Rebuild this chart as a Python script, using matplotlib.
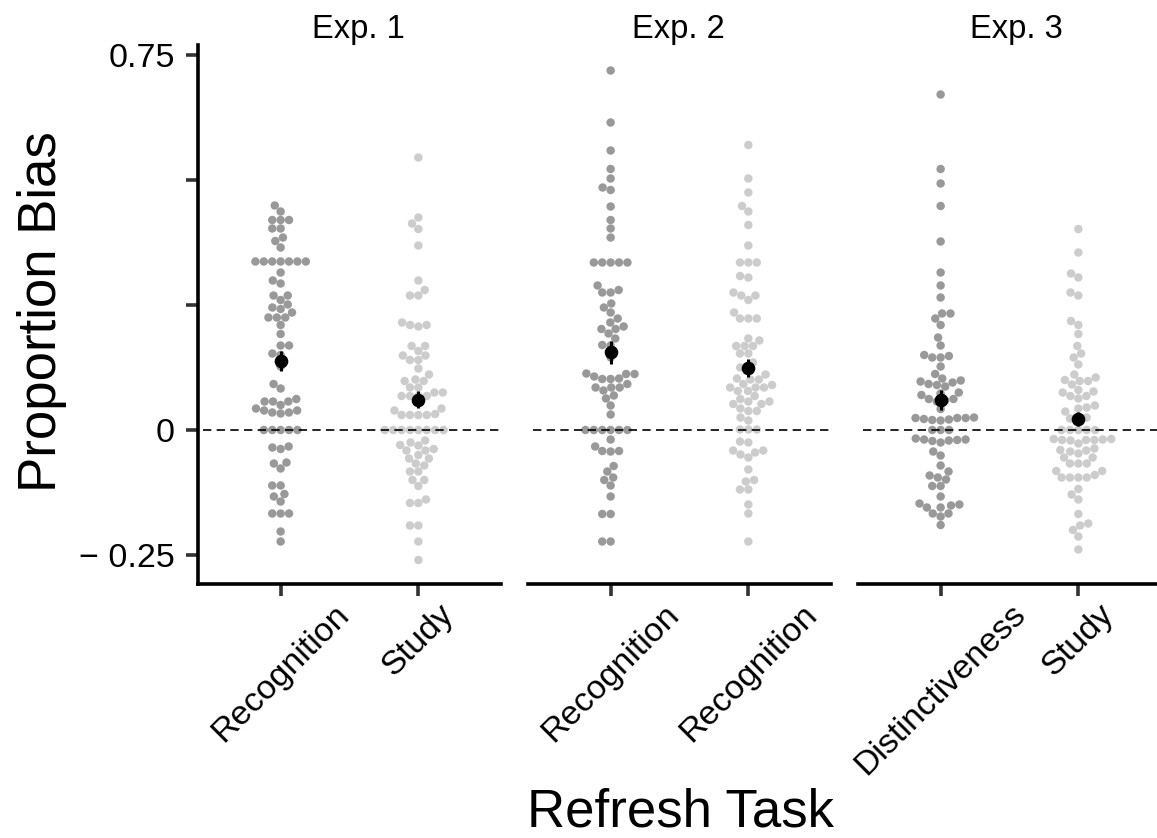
import numpy as np
import matplotlib
matplotlib.use("Agg")
import matplotlib.pyplot as plt

plt.rcParams['font.family'] = ['Liberation Sans', 'DejaVu Sans']

# ---------------- data ----------------
panel_titles = ['Exp. 1', 'Exp. 2', 'Exp. 3']
category_labels = [['Recognition', 'Study'],
                   ['Recognition', 'Recognition'],
                   ['Distinctiveness', 'Study']]

exp1_recognition = [0.449, 0.437, 0.420, 0.420, 0.420, 0.403, 0.403, 0.385, 0.378, 0.365,
                    0.337, 0.337, 0.337, 0.337, 0.337, 0.337, 0.337,
                    0.315, 0.299, 0.293, 0.269, 0.269, 0.260, 0.251, 0.245, 0.242, 0.235,
                    0.225, 0.225, 0.225, 0.210, 0.192, 0.169, 0.169, 0.153, 0.150, 0.127,
                    0.092, 0.083, 0.062,
                    0.057, 0.057, 0.057, 0.050, 0.043, 0.039, 0.039, 0.035, 0.035, 0.033,
                    0.0, 0.0, 0.0, 0.0, 0.0,
                    -0.033, -0.035, -0.038, -0.065, -0.067, -0.077, -0.111, -0.111, -0.128,
                    -0.133, -0.143, -0.167, -0.167, -0.167, -0.203, -0.223]

exp1_study = [0.545, 0.425, 0.413, 0.402, 0.369, 0.299, 0.280, 0.269, 0.269,
              0.215, 0.210, 0.210, 0.207, 0.168, 0.168, 0.158, 0.149, 0.149, 0.140, 0.140,
              0.123, 0.111, 0.101, 0.098, 0.098,
              0.085, 0.085, 0.075, 0.075, 0.068, 0.068, 0.068, 0.068,
              0.043, 0.039, 0.030, 0.030, 0.030, 0.030, 0.032,
              0.0, 0.0, 0.0, 0.0, 0.0, 0.0, 0.0, 0.0,
              -0.021, -0.025, -0.030, -0.031, -0.038, -0.041, -0.041, -0.050, -0.057, -0.057,
              -0.067, -0.071, -0.083, -0.083, -0.100, -0.100, -0.112, -0.139, -0.146, -0.146,
              -0.191, -0.191, -0.223, -0.260]

exp2_recognition_a = [0.719, 0.615, 0.559, 0.522, 0.503, 0.485, 0.480, 0.447, 0.420, 0.403, 0.385,
                      0.335, 0.335, 0.335, 0.335, 0.335,
                      0.289, 0.280, 0.275, 0.275, 0.253, 0.245, 0.235, 0.223, 0.215, 0.207,
                      0.202, 0.202, 0.193, 0.183, 0.170, 0.169, 0.145,
                      0.113, 0.112, 0.112, 0.107, 0.103, 0.102, 0.102, 0.092, 0.085, 0.085,
                      0.085, 0.079, 0.069, 0.063, 0.049, 0.031,
                      0.0, 0.0, 0.0, 0.0, 0.0, 0.0,
                      -0.019, -0.033, -0.042, -0.042, -0.043, -0.072, -0.083, -0.095, -0.100,
                      -0.111, -0.133, -0.168, -0.168, -0.223, -0.223]

exp2_recognition_b = [0.570, 0.503, 0.475, 0.448, 0.437, 0.410, 0.369, 0.335, 0.335, 0.335,
                      0.308, 0.305,
                      0.275, 0.269, 0.269, 0.260, 0.235, 0.223, 0.223, 0.223, 0.183, 0.179,
                      0.168, 0.168, 0.168, 0.153, 0.153, 0.135, 0.125, 0.121, 0.111,
                      0.103, 0.101, 0.101, 0.092, 0.090, 0.085, 0.085, 0.085, 0.078, 0.078,
                      0.068, 0.062, 0.057, 0.057, 0.052, 0.052, 0.043, 0.038, 0.038, 0.025, 0.019,
                      0.001, 0.001, 0.001,
                      -0.023, -0.025, -0.041, -0.041, -0.045, -0.049, -0.055, -0.079, -0.100,
                      -0.103, -0.119, -0.119, -0.149, -0.167, -0.223]

exp3_distinctiveness = [0.671, 0.522, 0.493, 0.448, 0.377, 0.315, 0.289, 0.265, 0.233, 0.233,
                        0.223, 0.210, 0.185, 0.169,
                        0.150, 0.148, 0.145, 0.145, 0.127, 0.112,
                        0.103, 0.099, 0.097, 0.095, 0.092, 0.090, 0.087,
                        0.075, 0.073, 0.070, 0.062, 0.062, 0.059, 0.057, 0.042,
                        0.025, 0.024, 0.024, 0.022, 0.021, 0.020, 0.019, 0.024,
                        0.0, 0.0, 0.0,
                        -0.017, -0.019, -0.019, -0.020, -0.021, -0.022, -0.025,
                        -0.043, -0.051, -0.071, -0.083, -0.091, -0.095, -0.099, -0.112, -0.112,
                        -0.133, -0.147, -0.149, -0.151, -0.155, -0.155, -0.167, -0.167,
                        -0.173, -0.190]

exp3_study = [0.402, 0.355, 0.313, 0.305, 0.275, 0.269, 0.218, 0.210, 0.192, 0.168, 0.153,
              0.145, 0.131, 0.111,
              0.105, 0.100, 0.098, 0.098, 0.091,
              0.080, 0.077, 0.075, 0.068, 0.068, 0.063,
              0.049, 0.045, 0.043, 0.037, 0.025, 0.023, 0.022,
              0.0, 0.0, 0.0, 0.0, 0.0,
              -0.018, -0.018, -0.019, -0.020, -0.020, -0.020, -0.021, -0.027, -0.037,
              -0.040, -0.041, -0.043, -0.047, -0.055, -0.055, -0.067, -0.067, -0.067,
              -0.082, -0.082, -0.090, -0.095, -0.095, -0.095, -0.095,
              -0.118, -0.129, -0.139, -0.168, -0.187, -0.191, -0.200, -0.213, -0.239]

panel_values = [[exp1_recognition, exp1_study],
                [exp2_recognition_a, exp2_recognition_b],
                [exp3_distinctiveness, exp3_study]]

means = [[0.137, 0.060], [0.155, 0.123], [0.060, 0.021]]
std_errors = [[0.020, 0.017], [0.023, 0.018], [0.020, 0.014]]

y_ticks = [-0.25, 0, 0.25, 0.5, 0.75]
y_tick_labels = ['\u2212 0.25', '0', '', '', '0.75']

colors = ['#999999', '#cccccc']

# ---------------- helpers ----------------
def swarm_offsets(vals, diam_px, sx, sy):
    vals = np.asarray(vals, dtype=float)
    order = np.argsort(vals, kind='stable')
    px_list, py_list = [], []
    offs = np.zeros(len(vals))
    for i in order:
        y = vals[i] * sy
        cands = [0.0]
        for px, py in zip(px_list, py_list):
            dy = y - py
            if abs(dy) < diam_px:
                dx = np.sqrt(diam_px ** 2 - dy ** 2)
                cands += [px - dx, px + dx]
        cands = sorted(cands, key=lambda c: (abs(c), c))
        chosen = 0.0
        for c in cands:
            if all((c - px) ** 2 + (y - py) ** 2 >= diam_px ** 2 - 1e-6
                   for px, py in zip(px_list, py_list)):
                chosen = c
                break
        px_list.append(chosen)
        py_list.append(y)
        offs[i] = chosen
    return offs / sx

# ---------------- figure ----------------
W, H = 1157, 838
fig = plt.figure(figsize=(W / 100, H / 100), dpi=100)

lefts_px = [198, 528, 858]
panel_w = 303
bottom_px = 254
panel_h = 539
title_x_px = [358, 678, 1016]

for k in range(3):
    ax = fig.add_axes([lefts_px[k] / W, bottom_px / H, panel_w / W, panel_h / H])
    ax.set_xlim(0.4, 2.6)
    ax.set_ylim(-0.308, 0.77)
    sx = panel_w / 2.2
    sy = panel_h / (0.77 + 0.308)
    for j in range(2):
        vals = panel_values[k][j]
        offs = swarm_offsets(vals, 8.4, sx, sy)
        ax.scatter(np.full(len(vals), j + 1.0) + offs, vals, s=37, color=colors[j],
                   edgecolors='none', zorder=2, clip_on=False)
    ax.axhline(0, color='black', lw=1.2, ls=(0, (5, 3.2)), zorder=3, xmin=0.015)
    ax.errorbar([1, 2], means[k], yerr=std_errors[k], fmt='o', color='black',
                ms=8.8, elinewidth=2.2, capsize=0, zorder=4)

    for s in ['top', 'right']:
        ax.spines[s].set_visible(False)
    ax.spines['bottom'].set_linewidth(2.6)
    ax.spines['left'].set_linewidth(2.6)
    ax.set_xticks([1, 2])
    ax.set_xticklabels(category_labels[k], rotation=45, ha='center', va='top')
    ax.tick_params(axis='x', length=8.6, width=2.6, color='#333333', pad=2,
                   labelsize=24.5, labelcolor='black')
    if k == 0:
        ax.set_yticks(y_ticks)
        ax.set_yticklabels(y_tick_labels)
        ax.tick_params(axis='y', length=8.6, width=2.6, color='#333333', pad=8,
                       labelsize=24.5, labelcolor='black')
    else:
        ax.spines['left'].set_visible(False)
        ax.set_yticks([])
    ax.set_facecolor('none')
    fig.text(title_x_px[k] / W, 1 - 38 / H, panel_titles[k], ha='center', va='baseline',
             fontsize=23.5)

fig.text(42 / W, 1 - 312 / H, 'Proportion Bias', rotation=90, ha='center', va='center',
         fontsize=38)
fig.text(680 / W, 1 / H, 'Refresh Task', ha='center', va='bottom', fontsize=38)

fig.savefig('out.png', dpi=100)
